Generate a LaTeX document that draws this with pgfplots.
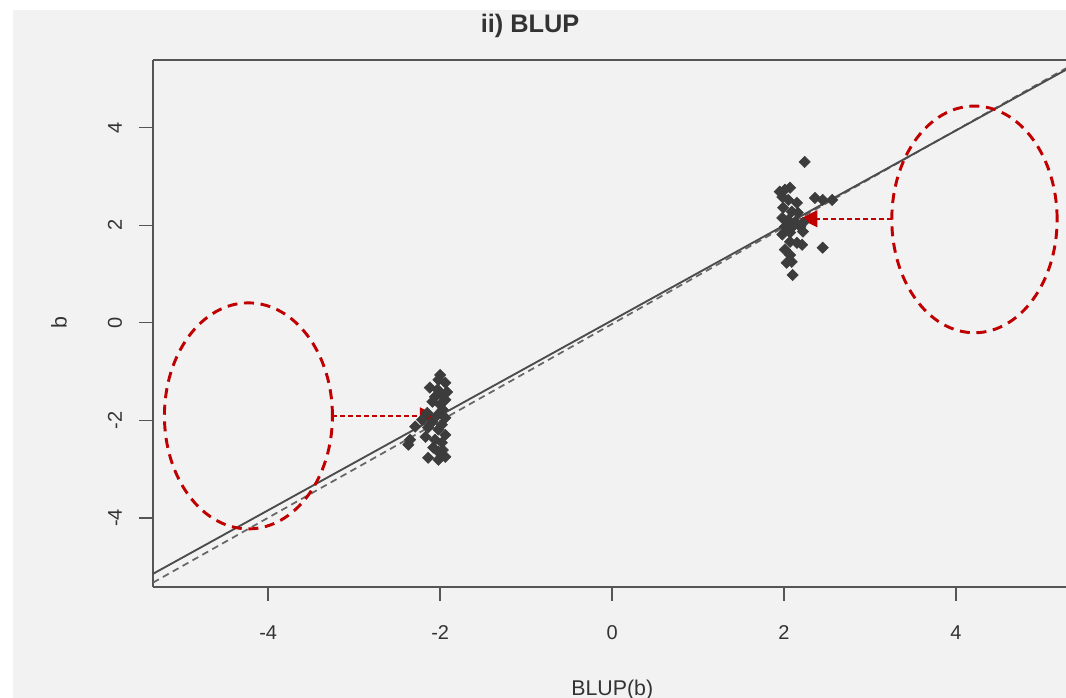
\documentclass[border=0pt]{standalone}
\usepackage{fontspec}
\setmainfont{Liberation Sans}
\usepackage{pgfplots}
\pgfplotsset{compat=1.18}
\usetikzlibrary{arrows.meta}
\definecolor{annred}{RGB}{192,0,0}
\definecolor{ptcol}{RGB}{60,60,60}
\definecolor{axcol}{RGB}{85,85,85}
\begin{document}
\begin{tikzpicture}
% background (1px = 0.75pt; axis SW corner at origin)
\fill[white] (-114.75pt,-83.25pt) rectangle (684.75pt,440.25pt);
\fill[black!5] (-105pt,-83.25pt) rectangle (684.75pt,432.75pt);
\begin{axis}[
  name=ax,
  anchor=south west, at={(0,0)},
  scale only axis,
  width=684.75pt, height=395.25pt,
  xmin=-5.34, xmax=5.28, ymin=-5.42, ymax=5.39,
  axis x line=box, axis y line=left,
  axis line style={draw=axcol, line width=1.3pt, -},
  xtick={-4,-2,0,2,4}, ytick={-4,-2,0,2,4},
  xtick pos=lower, ytick pos=left,
  tick align=outside,
  major tick length=10.5pt,
  every tick/.style={draw=axcol, line width=1.1pt},
  /pgf/number format/assume math mode=true,
  tick label style={font=\fontsize{15}{18}\selectfont, text=black!80},
  yticklabel style={xshift=-18pt, rotate=90, anchor=center},
  xticklabel style={anchor=center, yshift=-24pt},
  label style={font=\fontsize{16}{19}\selectfont, text=black!80},
  xlabel={BLUP(b)},
  ylabel={b},
  xlabel style={at={(axis description cs:0.503,0)}, anchor=center, yshift=-77pt},
  ylabel style={at={(axis description cs:0,0.501)}, anchor=center, yshift=70.5pt},
  title={ii) BLUP},
  title style={at={(axis description cs:0.413,1)}, anchor=center, yshift=19.5pt, font=\bfseries\fontsize{19}{23}\selectfont, text=black!80},
  clip=true,
]
% dashed 1:1 line
\addplot[draw=black!60, line width=1.3pt, dash pattern=on 5pt off 3.5pt] coordinates {(-5.34,-5.33) (5.28,5.22)};
% solid fitted line
\addplot[draw=black!70, line width=1.4pt] coordinates {(-5.34,-5.15) (5.28,5.19)};
% points, left cluster
\addplot[only marks, mark=square*, mark size=3pt, mark options={fill=ptcol, draw=ptcol, rotate=45}] table {
x y
-2.00 -1.07
-2.02 -1.17
-1.94 -1.23
-2.12 -1.33
-2.03 -1.37
-1.92 -1.42
-1.98 -1.48
-2.06 -1.52
-1.94 -1.58
-2.09 -1.62
-2.00 -1.68
-1.97 -1.78
-2.15 -1.85
-2.03 -1.89
-1.94 -1.95
-2.21 -1.99
-2.09 -2.03
-1.98 -2.09
-2.29 -2.13
-2.14 -2.15
-2.02 -2.19
-1.94 -2.30
-2.35 -2.40
-2.17 -2.34
-2.06 -2.40
-1.98 -2.46
-2.37 -2.50
-2.08 -2.56
-1.97 -2.61
-2.02 -2.65
-2.14 -2.77
-2.02 -2.81
-1.94 -2.75
};
% points, right cluster
\addplot[only marks, mark=square*, mark size=3pt, mark options={fill=ptcol, draw=ptcol, rotate=45}] table {
x y
2.24 3.30
2.01 2.73
2.07 2.77
1.95 2.69
1.98 2.58
2.05 2.52
2.15 2.46
2.36 2.56
2.45 2.52
2.56 2.52
1.99 2.36
2.09 2.28
2.16 2.26
1.98 2.15
2.05 2.11
2.13 2.07
2.22 2.05
2.01 1.97
2.09 1.95
2.19 1.97
1.98 1.81
2.07 1.85
2.22 1.87
2.07 1.66
2.15 1.64
2.21 1.60
2.45 1.54
2.01 1.50
2.07 1.39
2.03 1.23
2.09 1.25
2.10 0.98
};
% annotations
\draw[annred, line width=2.2pt, dash pattern=on 7.5pt off 5pt] (axis cs:-4.23,-1.91) ellipse [x radius=63pt, y radius=84.75pt];
\draw[annred, line width=2.2pt, dash pattern=on 7.5pt off 5pt] (axis cs:4.215,2.12) ellipse [x radius=62pt, y radius=85pt];
\draw[annred, line width=1.4pt, dash pattern=on 3.75pt off 2.25pt, -{Triangle[length=13pt, width=12.5pt]}] (axis cs:-3.256,-1.908) -- (axis cs:-2.035,-1.908);
\draw[annred, line width=1.4pt, dash pattern=on 3.75pt off 2.25pt, -{Triangle[length=13pt, width=12.5pt]}] (axis cs:3.256,2.133) -- (axis cs:2.186,2.133);
\end{axis}
\pgfresetboundingbox
\useasboundingbox (-114.75pt,-83.25pt) rectangle (684.75pt,440.25pt);
\end{tikzpicture}
\end{document}
